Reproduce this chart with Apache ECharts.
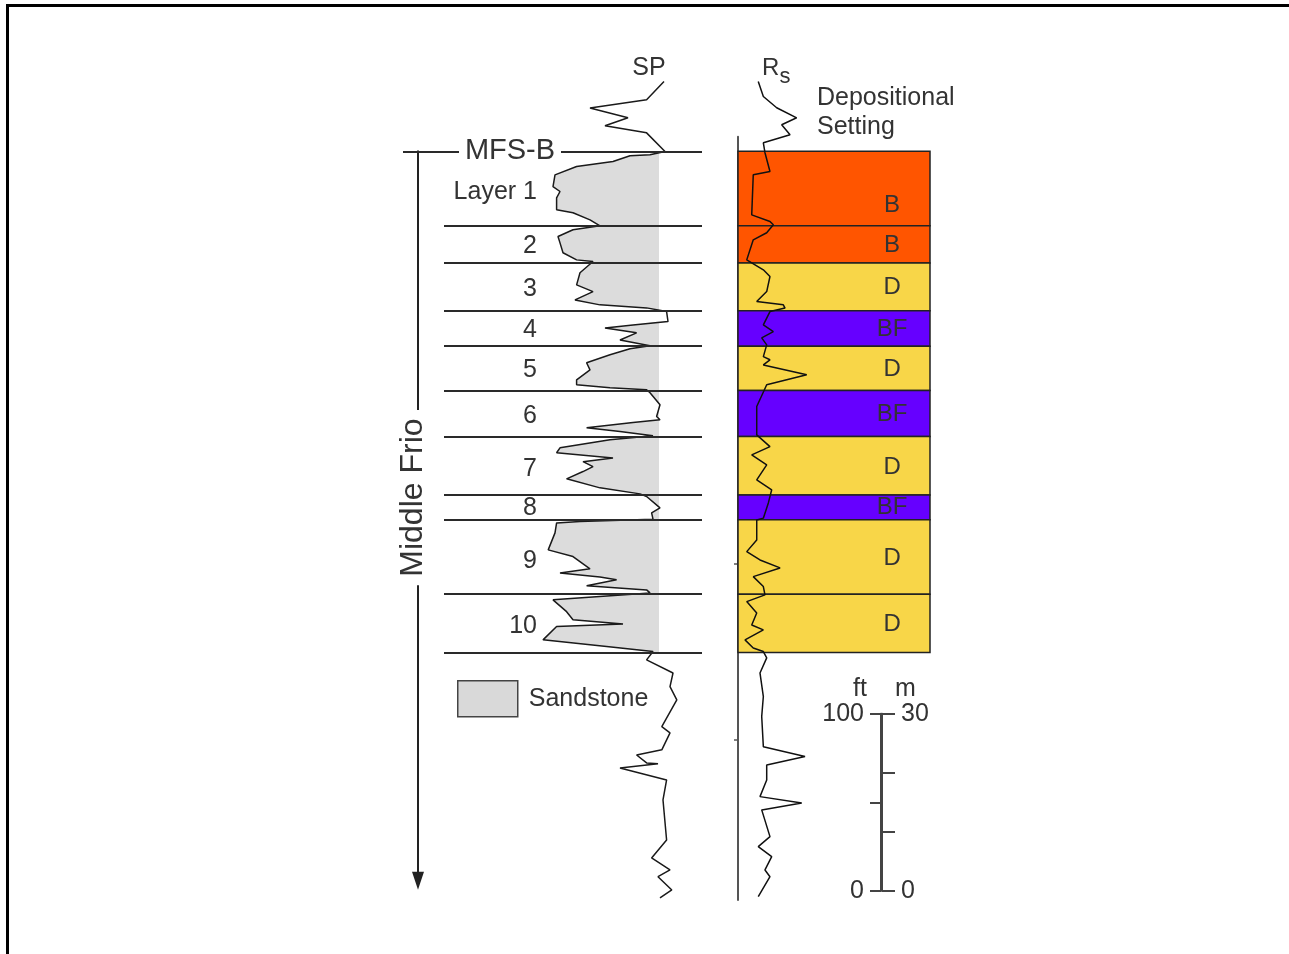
<!DOCTYPE html>
<html><head><meta charset="utf-8">
<script src="https://cdn.jsdelivr.net/npm/echarts@6/dist/echarts.min.js"></script>
<style>
html,body{margin:0;padding:0;background:#fff;overflow:hidden;}
#frame{position:absolute;left:6px;top:4px;width:1400px;height:1000px;border-top:3px solid #000;border-left:3px solid #000;box-sizing:border-box;}
#chart{position:absolute;left:0;top:0;width:1289px;height:954px;}
</style></head><body><div id="frame"></div><div id="chart"></div>
<script>
// ---------------- data (depth in ft below MFS-B) ----------------
const layerNames = ['Layer 1','2','3','4','5','6','7','8','9','10'];
const layerTops  = [0, 42, 63, 90, 110, 135, 161, 194, 208, 250];
const layerBases = [42, 63, 90, 110, 135, 161, 194, 208, 250, 283];
const settings   = ['B','B','D','BF','D','BF','D','BF','D','D'];

// SP log (mV relative to shale baseline)
const spDepth = [-39.4,-29.1,-24.4,-18.9,-14.4,-10.4,0.1,2.0,2.5,5.8,8.6,13.3,19.9,22.7,26.3,33.0,34.7,38.7,42.1,44.3,48.1,51.7,57.3,61.3,62.2,68.6,75.4,79.2,83.9,86.7,88.4,90.5,96.1,98.0,99.7,102.5,106.5,109.8,111.5,114.9,119.4,123.4,129.0,131.8,133.5,134.6,136.3,143.1,149.7,151.6,153.1,156.1,158.2,160.6,162.9,167.4,170.2,173.1,175.2,178.0,180.8,184.9,190.0,193.4,194.9,201.3,204.1,207.7,209.0,209.8,215.4,225.0,228.8,235.7,238.0,240.3,241.9,245.3,247.6,249.3,253.2,259.9,264.5,266.8,268.3,275.8,279.6,282.4,287.1,294.5,302.2,309.7,324.8,328.3,337.9,340.8,345.3,345.8,348.1,354.9,366.2,388.8,398.9,405.7,409.5,417.0,421.5];
const spValue = [2.5,-6.2,-34.5,-15.5,-27,-6.2,3,-4.5,-14.5,-23,-41.2,-52,-53,-49.5,-51.2,-51.2,-43,-34.5,-29.5,-43,-50.5,-49.5,-48,-41.2,-33,-39.5,-41.2,-33,-42,-29.5,-6.2,3.8,4.5,-13,-27,-11.2,-19.5,-4.5,-14.5,-24.5,-36.2,-34.5,-41.2,-41.2,-24.5,-6.2,-4.5,0.5,-1.2,0.5,-13,-36.2,-19.5,-3,-24.5,-49.5,-51.2,-23,-38,-33,-38,-46.2,-29.5,-9.5,-6.2,0.5,-3.7,-3,-39.5,-51.2,-52,-55.4,-43,-34.5,-49.5,-29.5,-21.2,-36.2,-6.2,-4.5,-53,-46.2,-43,-18,-51.2,-58,-26.2,-3,-6.2,7,5.5,8.9,1.4,5.5,1.4,-11.2,-6.2,-0.5,-19.5,3.8,2,3.8,-3.7,5.5,-0.5,6.4,0.5];

// Rs log (ohm-m)
const rsDepth = [-39.4,-30.9,-24.6,-18.9,-15.0,-9.3,-4.8,0.8,11.4,13.3,35.9,39.6,41.5,46.0,50.0,61.3,66.9,70.7,79.2,84.8,86.7,88.5,90.5,98.0,101.8,105.3,109.3,115.9,117.7,120.6,126.2,131.8,144.1,160.1,166.7,171.4,177.0,185.5,191.1,198.5,207.1,208.1,219.4,226.0,230.7,235.2,240.1,245.7,250.4,254.2,260.6,267.4,270.2,275.8,280.4,282.4,286.0,294.5,307.8,319.1,336.1,341.7,346.4,354.9,364.3,367.9,371.8,386.9,392.5,398.2,405.7,409.5,420.8];
const rsValue = [2.11,2.64,4.03,6.11,4.55,5.42,2.64,2.81,3.33,1.59,1.43,3.33,3.68,2.99,1.59,0.91,2.64,3.33,2.99,1.95,4.72,4.9,3.33,2.64,3.68,2.47,2.99,2.64,3.33,2.64,7.16,2.99,1.95,1.95,3.33,1.43,2.99,1.95,3.51,3.16,2.64,1.95,1.95,0.91,2.29,4.38,1.59,2.64,2.81,0.91,1.95,1.43,2.64,0.73,1.59,2.64,2.99,2.29,2.64,2.47,2.64,6.98,2.99,2.99,2.29,6.64,2.47,3.33,2.11,3.51,2.81,3.33,2.11];

const rsTickDepths = [233, 332];
const scaleFtTicks = [0, 100];
const scaleMTicks = [0, 30];

// ---------------- layout / style ----------------
const FONT = "'Liberation Sans', Arial, sans-serif";
const TXT = '#333';
const DMIN = -60, DMAX = 430, TOP_PX = 45, K = 868 / 490;
const blockColors = {B: '#ff5500', D: '#f8d648', BF: '#6600ff'};
function vgrid(left, width, d0, d1) {
  return {left: left, width: width, top: TOP_PX + (d0 - DMIN) * K, height: (d1 - d0) * K};
}
const grids = [
  vgrid(539, 160, DMIN, DMAX),   // 0 SP track
  vgrid(738, 192, DMIN, DMAX),   // 1 Rs track
  vgrid(444, 258, DMIN, DMAX),   // 2 layer lines / labels
  vgrid(403, 299, DMIN, DMAX),   // 3 MFS-B line
  vgrid(459, 102, DMIN, DMAX),   // 4 MFS-B label
  vgrid(738, 192, -8.2, 422.6),  // 5 Rs axis line
  vgrid(418, 10, 0, 411.8),      // 6 Middle Frio arrow
  vgrid(397, 32, DMIN, DMAX),    // 7 Middle Frio label
  vgrid(881, 1, 317.5, 417.5)    // 8 scale bar
];
const hiddenX = (i, min, max) => ({type: 'value', gridIndex: i, min: min, max: max, show: false});
const hiddenY = (i, min, max) => ({type: 'value', gridIndex: i, min: min, max: max, inverse: true, show: false});

const xAxes = [
  hiddenX(0, -60, 20), hiddenX(1, 0, 20), hiddenX(2, 0, 1), hiddenX(3, 0, 1), hiddenX(4, 0, 1),
  hiddenX(5, 0, 20), hiddenX(6, 0, 1), hiddenX(7, 0, 1), hiddenX(8, 0, 1)
];
const yAxes = [
  hiddenY(0, DMIN, DMAX), hiddenY(1, DMIN, DMAX), hiddenY(2, DMIN, DMAX), hiddenY(3, DMIN, DMAX), hiddenY(4, DMIN, DMAX),
  {type: 'value', gridIndex: 5, min: -8.2, max: 422.6, inverse: true, position: 'left',
   axisLine: {show: true, lineStyle: {color: '#555', width: 2}},
   axisTick: {show: true, customValues: rsTickDepths, length: 4, lineStyle: {color: '#555', width: 1.5}},
   axisLabel: {show: false}, splitLine: {show: false}},
  {type: 'value', gridIndex: 6, min: 0, max: 411.8, inverse: true, position: 'left',
   axisLine: {show: true, symbol: ['triangle', 'none'], symbolSize: [12, 18], lineStyle: {color: '#222', width: 2}},
   axisTick: {show: false}, axisLabel: {show: false}, splitLine: {show: false}},
  hiddenY(7, DMIN, DMAX),
  {type: 'value', gridIndex: 8, min: 0, max: 100, interval: 50, position: 'left',
   name: 'ft', nameLocation: 'end', nameGap: 8,
   nameTextStyle: {fontFamily: FONT, fontSize: 25, color: TXT, align: 'right', padding: [0, 14, 0, 0]},
   axisLine: {show: true, lineStyle: {color: '#444', width: 2}},
   axisTick: {show: true, inside: false, length: 11, lineStyle: {color: '#444', width: 2}},
   axisLabel: {show: true, margin: 17, fontFamily: FONT, fontSize: 25, color: TXT,
     formatter: v => scaleFtTicks.indexOf(v) >= 0 ? String(v) : ''},
   splitLine: {show: false}},
  {type: 'value', gridIndex: 8, min: 0, max: 30, interval: 10, position: 'right',
   name: 'm', nameLocation: 'end', nameGap: 8,
   nameTextStyle: {fontFamily: FONT, fontSize: 25, color: TXT, align: 'left', padding: [0, 0, 0, 13]},
   axisLine: {show: true, lineStyle: {color: '#444', width: 2}},
   axisTick: {show: true, inside: false, length: 13, lineStyle: {color: '#444', width: 2}},
   axisLabel: {show: true, margin: 19, fontFamily: FONT, fontSize: 25, color: TXT,
     formatter: v => scaleMTicks.indexOf(v) >= 0 ? String(v) : ''},
   splitLine: {show: false}}
];

function interpAt(depths, vals, d) {
  for (let i = 1; i < depths.length; i++) {
    if (depths[i] >= d) {
      const t = (d - depths[i - 1]) / (depths[i] - depths[i - 1]);
      return vals[i - 1] + t * (vals[i] - vals[i - 1]);
    }
  }
  return vals[vals.length - 1];
}
const sandTop = layerTops[0], sandBase = layerBases[layerBases.length - 1];

const spData = spDepth.map((d, i) => {
  const item = {value: [spValue[i], d]};
  if (i === 0) item.label = {show: true, formatter: 'SP', position: 'top', offset: [-15, 4],
    fontFamily: FONT, fontSize: 25, color: TXT};
  return item;
});
const rsData = rsDepth.map((d, i) => {
  const item = {value: [rsValue[i], d]};
  if (i === 0) item.label = {show: true, formatter: '{r|R}{s|s}', position: 'top', offset: [18, 11],
    rich: {r: {fontFamily: FONT, fontSize: 24, color: TXT}, s: {fontFamily: FONT, fontSize: 22, color: TXT, padding: [16, 0, 0, 0]}}};
  return item;
});

const option = {
  animation: false,
  grid: grids,
  xAxis: xAxes,
  yAxis: yAxes,
  title: [{text: 'Depositional\nSetting', left: 817, top: 84, padding: 0,
    textStyle: {fontFamily: FONT, fontSize: 25, fontWeight: 'normal', color: TXT, lineHeight: 29}}],
  legend: {left: 457, top: 680, padding: 0, itemWidth: 60, itemHeight: 36, selectedMode: false,
    textStyle: {fontFamily: FONT, fontSize: 25, color: TXT, padding: [0, 0, 0, 6]},
    data: [{name: 'Sandstone', icon: 'rect', itemStyle: {color: '#d9d9d9', borderColor: '#444', borderWidth: 1.5}}]},
  series: [
    { // sandstone fill between SP curve and shale baseline
      name: 'Sandstone', type: 'custom', xAxisIndex: 0, yAxisIndex: 0, z: 1, silent: true,
      itemStyle: {color: '#d9d9d9'},
      data: [[0, sandTop]],
      renderItem: function (params, api) {
        const pts = [];
        pts.push(api.coord([Math.min(interpAt(spDepth, spValue, sandTop), 0), sandTop]));
        for (let i = 0; i < spDepth.length; i++) {
          if (spDepth[i] > sandTop && spDepth[i] < sandBase) pts.push(api.coord([Math.min(spValue[i], 0), spDepth[i]]));
        }
        pts.push(api.coord([Math.min(interpAt(spDepth, spValue, sandBase), 0), sandBase]));
        pts.push(api.coord([0, sandBase]));
        pts.push(api.coord([0, sandTop]));
        return {type: 'polygon', shape: {points: pts}, style: {fill: '#dcdcdc'}, silent: true};
      }
    },
    {
      name: 'SP', type: 'line', xAxisIndex: 0, yAxisIndex: 0, z: 4, silent: true,
      showSymbol: true, symbolSize: 0, symbol: 'circle',
      lineStyle: {color: '#1a1a1a', width: 1.5}, itemStyle: {color: '#1a1a1a'},
      data: spData
    },
    { // depositional setting blocks
      name: 'blocks', type: 'line', xAxisIndex: 1, yAxisIndex: 1, z: 2, silent: true, data: [],
      markArea: {silent: true, z: 1,
        data: layerTops.map((t, i) => [
          {name: settings[i], yAxis: t, itemStyle: {color: blockColors[settings[i]], borderColor: '#222', borderWidth: 1.5},
           label: {show: true, position: i === 0 ? ['80%', '72%'] : ['80%', '52%'], align: 'center', verticalAlign: 'middle',
                   fontFamily: FONT, fontSize: 24, color: '#333'}},
          {yAxis: layerBases[i]}
        ])}
    },
    {
      name: 'Rs', type: 'line', xAxisIndex: 1, yAxisIndex: 1, z: 5, silent: true,
      showSymbol: true, symbolSize: 0, symbol: 'circle',
      lineStyle: {color: '#111', width: 1.5}, itemStyle: {color: '#111'},
      data: rsData
    },
    { // layer boundaries + layer labels
      name: 'layers', type: 'line', xAxisIndex: 2, yAxisIndex: 2, z: 6, silent: true, data: [],
      markLine: {silent: true, symbol: 'none', label: {show: false}, z: 5,
        lineStyle: {color: '#2a2a2a', width: 2, type: 'solid'},
        data: layerBases.map(d => ({yAxis: d}))},
      markArea: {silent: true, z: 6, itemStyle: {color: 'rgba(0,0,0,0)'},
        data: layerTops.map((t, i) => [
          {name: layerNames[i], yAxis: t,
           label: {show: true, position: [93, '55%'], align: 'right', verticalAlign: 'middle',
                   fontFamily: FONT, fontSize: 25, color: TXT}},
          {yAxis: layerBases[i]}
        ])}
    },
    { // MFS-B surface
      name: 'mfs', type: 'line', xAxisIndex: 3, yAxisIndex: 3, z: 6, silent: true, data: [],
      markLine: {silent: true, symbol: 'none', label: {show: false}, z: 5,
        lineStyle: {color: '#2a2a2a', width: 2, type: 'solid'}, data: [{yAxis: sandTop}]}
    },
    {
      name: 'mfsLabel', type: 'line', xAxisIndex: 4, yAxisIndex: 4, z: 8, silent: true, data: [],
      markArea: {silent: true, z: 10, itemStyle: {color: '#fff'},
        data: [[{name: 'MFS-B', yAxis: sandTop - 7,
          label: {show: true, position: 'inside', fontFamily: FONT, fontSize: 29, color: TXT}}, {yAxis: sandTop + 7}]]}
    },
    {
      name: 'frioLabel', type: 'line', xAxisIndex: 7, yAxisIndex: 7, z: 8, silent: true, data: [],
      markArea: {silent: true, z: 10, itemStyle: {color: '#fff'},
        data: [[{name: 'Middle Frio', yAxis: 146,
          label: {show: true, position: 'inside', rotate: 90, fontFamily: FONT, fontSize: 32, color: TXT}}, {yAxis: 245}]]}
    }
  ]
};
const chart = echarts.init(document.getElementById('chart'), null, {renderer: 'canvas'});
chart.setOption(option);
</script></body></html>
